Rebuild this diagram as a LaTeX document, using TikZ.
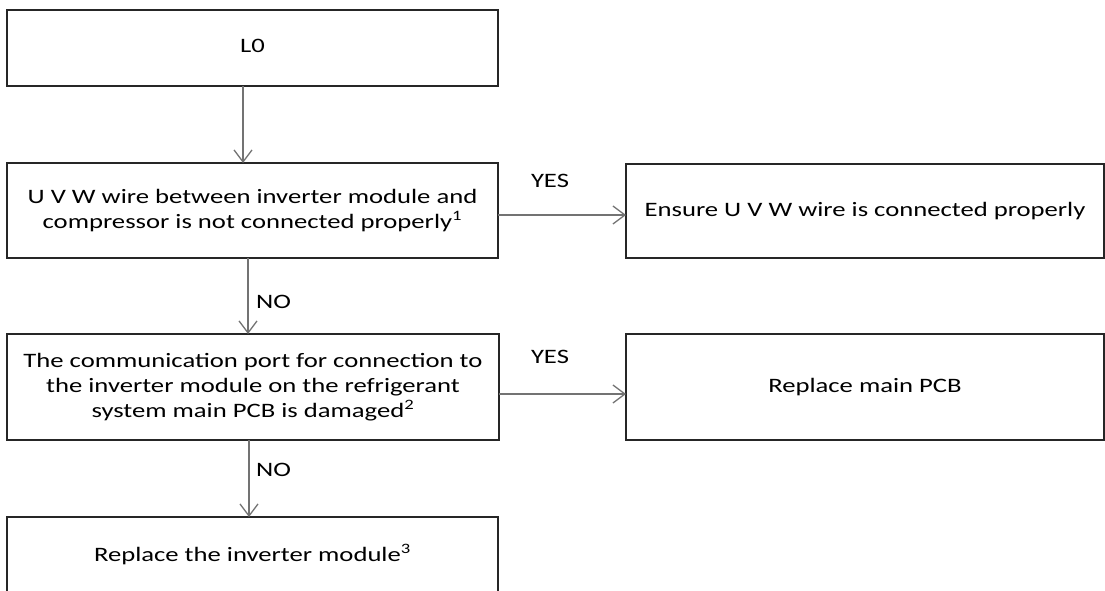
\documentclass[tikz,border=0pt]{standalone}
\usepackage{fontspec}
\usepackage{graphicx}
\setmainfont{Carlito}
\usetikzlibrary{arrows.meta}
\newcommand{\widetext}[1]{\scalebox{1.3}[1]{\begin{tabular}{@{}c@{}}#1\end{tabular}}}
\begin{document}
\begin{tikzpicture}[x=1pt,y=-1pt,
  box/.style={draw=black!85, line width=1.2pt, inner sep=0pt, outer sep=0pt, align=center,
    font=\fontsize{20.5}{25}\selectfont},
  flow/.style={draw=black!55, line width=1.3pt, -{Straight Barb[length=12pt,width=18pt,line width=1.3pt]}},
  lbl/.style={font=\fontsize{20.5}{25}\selectfont, inner sep=0pt}
]
\useasboundingbox (0,0) rectangle (1105,591);
\node[box, minimum width=491pt, minimum height=76pt] (L0) at (252.5,48) {\widetext{L0}};
\node[box, minimum width=491pt, minimum height=95pt] (B1) at (252.5,210.5)
  {\widetext{U V W wire between inverter module and\\compressor is not connected properly\textsuperscript{1}}};
\node[box, minimum width=492pt, minimum height=106pt] (B2) at (253,387)
  {\widetext{The communication port for connection to\\the inverter module on the refrigerant\\system main PCB is damaged\textsuperscript{2}}};
\node[box, minimum width=491pt, minimum height=78pt] (B3) at (252.5,556)
  {\widetext{Replace the inverter module\textsuperscript{3}}};
\node[box, minimum width=478pt, minimum height=94pt] (R1) at (865,211)
  {\widetext{Ensure U V W wire is connected properly}};
\node[box, minimum width=478pt, minimum height=106pt] (R2) at (865,387)
  {\widetext{Replace main PCB}};

\draw[flow] ([xshift=-9.5pt]L0.south) -- ([xshift=-9.5pt]B1.north);
\draw[flow] ([xshift=-4.5pt]B1.south) -- ([xshift=-4.5pt]B1.south |- B2.north);
\draw[flow] ([xshift=-4pt]B2.south) -- ([xshift=-4pt]B2.south |- B3.north);
\draw[flow] ([yshift=-4.5pt]B1.east) -- ([yshift=-4.5pt]B1.east -| R1.west);
\draw[flow] ([yshift=-7pt]B2.east) -- ([yshift=-7pt]B2.east -| R2.west);

\node[lbl] (yes1) at (550,182) {\widetext{YES}};
\node[lbl] (yes2) at (550,358) {\widetext{YES}};
\node[lbl, anchor=west] (no1) at (256,303) {\widetext{NO}};
\node[lbl, anchor=west] (no2) at (256,471) {\widetext{NO}};
\end{tikzpicture}
\end{document}
